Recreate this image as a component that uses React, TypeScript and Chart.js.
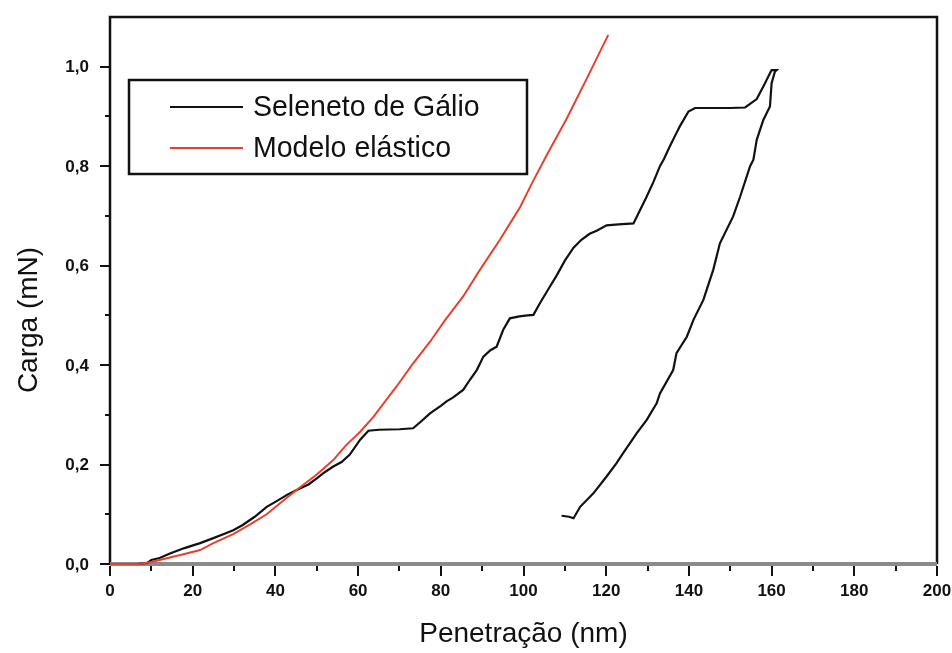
import { useEffect, useRef } from "react";
import { Chart, registerables } from "chart.js";

Chart.register(...registerables);

// Axis ticks
const xTicks = [0, 20, 40, 60, 80, 100, 120, 140, 160, 180, 200];
const yTicks = [0, 0.2, 0.4, 0.6, 0.8, 1.0];
const xMinorTicks = [10, 30, 50, 70, 90, 110, 130, 150, 170, 190];
const yMinorTicks = [0.1, 0.3, 0.5, 0.7, 0.9];

const xTitle = "Penetração (nm)";
const yTitle = "Carga (mN)";
const seriesNames = ["Seleneto de Gálio", "Modelo elástico"];

// Measured indentation curve (loading then unloading), penetration in nm
const galioNm = [
  6.5, 9, 10, 12, 14.5, 18, 21.8, 25, 28, 29.8, 32, 35, 37.9, 40, 43, 45.9, 48, 50, 52, 54, 56, 58,
  60.5, 62.5, 65, 70, 73.3, 75, 77.4, 80, 81.4, 83, 85.4, 87, 88.7, 90.3, 92, 93.5, 95.1, 96.7, 99,
  101, 102.4, 104, 106.4, 108, 110, 112.1, 114, 116, 117.7, 120.1, 123, 126.6, 128.2, 129.8, 131.4,
  133, 134, 135.4, 137, 137.8, 139.9, 141.5, 145, 150, 153.6, 156.4, 158, 159.6, 160, 161.2,
  160.8, 160, 159.6, 158, 156.4, 155.6, 154.8, 152.4, 150.7, 147.5, 145.9, 143.5, 141.1, 139.5,
  137, 136.2, 133, 132.2, 129.8, 127.4, 124.1, 122.5, 120, 116.9, 113.7, 112.1, 111, 109.2,
];
// Load in mN for each point above
const galioMn = [
  0, 0.002, 0.008, 0.012, 0.021, 0.032, 0.042, 0.052, 0.062, 0.068, 0.078, 0.095, 0.115, 0.125, 0.14,
  0.152, 0.16, 0.172, 0.185, 0.196, 0.205, 0.22, 0.25, 0.268, 0.27, 0.271, 0.273, 0.285, 0.303, 0.318,
  0.327, 0.335, 0.35, 0.37, 0.39, 0.417, 0.43, 0.437, 0.471, 0.494, 0.498, 0.5, 0.501, 0.525, 0.558,
  0.58, 0.61, 0.636, 0.652, 0.664, 0.67, 0.681, 0.683, 0.685, 0.712, 0.739, 0.768, 0.8, 0.815, 0.84,
  0.867, 0.88, 0.91, 0.917, 0.917, 0.917, 0.918, 0.935, 0.96, 0.987, 0.993, 0.993,
  0.99, 0.967, 0.92, 0.893, 0.853, 0.813, 0.8, 0.739, 0.699, 0.645, 0.592, 0.531, 0.491, 0.457,
  0.424, 0.39, 0.343, 0.323, 0.29, 0.263, 0.223, 0.203, 0.175, 0.142, 0.115, 0.092, 0.095, 0.097,
];

// Elastic model curve
const modelNm = [
  0, 7, 10, 14.5, 18, 21.8, 25, 29.8, 34, 37.9, 42, 45.9, 50, 54, 57, 60.5, 63.7, 69.3, 73, 77.4, 81,
  85.4, 89.5, 94.3, 97.5, 99.2, 102, 105.6, 110.4, 115.3, 120.5,
];
const modelMn = [
  0, 0, 0.004, 0.013, 0.02, 0.028, 0.042, 0.06, 0.08, 0.1, 0.128, 0.154, 0.18, 0.209, 0.238, 0.266,
  0.296, 0.357, 0.4, 0.447, 0.49, 0.538, 0.592, 0.652, 0.695, 0.718, 0.765, 0.822, 0.895, 0.976, 1.064,
];

const BLACK = "#111111";
const RED = "#e8402e";
const FONT = "'Liberation Sans', Arial, sans-serif";

const formatLoad = (v: number) => v.toFixed(1).replace(".", ",");

const decorations = {
  id: "decorations",
  beforeDatasetsDraw(chart: any) {
    const { ctx, chartArea: a, scales } = chart;
    const xs = scales.x;
    const ys = scales.y;
    ctx.save();
    // frame
    ctx.strokeStyle = BLACK;
    ctx.lineWidth = 2.5;
    ctx.beginPath();
    ctx.moveTo(a.left, a.bottom);
    ctx.lineTo(a.left, a.top);
    ctx.lineTo(a.right, a.top);
    ctx.lineTo(a.right, a.bottom);
    ctx.stroke();
    // x axis baseline
    ctx.strokeStyle = "#8a8a8a";
    ctx.lineWidth = 4;
    ctx.beginPath();
    ctx.moveTo(a.left, a.bottom);
    ctx.lineTo(a.right, a.bottom);
    ctx.stroke();
    // tick marks
    ctx.strokeStyle = BLACK;
    ctx.lineWidth = 2;
    ctx.beginPath();
    for (const v of xTicks) {
      const px = Math.round(xs.getPixelForValue(v));
      ctx.moveTo(px, a.bottom + 2);
      ctx.lineTo(px, a.bottom + 12);
    }
    for (const v of xMinorTicks) {
      const px = Math.round(xs.getPixelForValue(v));
      ctx.moveTo(px, a.bottom + 2);
      ctx.lineTo(px, a.bottom + 7);
    }
    for (const v of yTicks) {
      const py = Math.round(ys.getPixelForValue(v));
      ctx.moveTo(a.left - 10, py);
      ctx.lineTo(a.left, py);
    }
    for (const v of yMinorTicks) {
      const py = Math.round(ys.getPixelForValue(v));
      ctx.moveTo(a.left - 5, py);
      ctx.lineTo(a.left, py);
    }
    ctx.stroke();

    // tick labels
    ctx.fillStyle = BLACK;
    ctx.font = `bold 17px ${FONT}`;
    ctx.textBaseline = "middle";
    ctx.textAlign = "center";
    for (const v of xTicks) {
      ctx.fillText(String(v), xs.getPixelForValue(v), a.bottom + 27);
    }
    ctx.textAlign = "right";
    for (const v of yTicks) {
      ctx.fillText(formatLoad(v), a.left - 21, ys.getPixelForValue(v) + 1);
    }
    ctx.restore();
  },
  afterDraw(chart: any) {
    const { ctx, chartArea: a } = chart;
    ctx.save();
    ctx.fillStyle = BLACK;
    ctx.textBaseline = "middle";
    // axis titles
    ctx.font = `28px ${FONT}`;
    ctx.textAlign = "center";
    ctx.fillText(xTitle, (a.left + a.right) / 2, 634);
    ctx.save();
    ctx.translate(29, 320);
    ctx.rotate(-Math.PI / 2);
    ctx.fillText(yTitle, 0, 0);
    ctx.restore();

    // legend box
    const bx = 129, by = 80, bw = 398, bh = 94;
    ctx.strokeStyle = BLACK;
    ctx.lineWidth = 2.5;
    ctx.strokeRect(bx, by, bw, bh);
    const rows = [
      { label: seriesNames[0], color: BLACK, y: 107 },
      { label: seriesNames[1], color: RED, y: 148 },
    ];
    ctx.textAlign = "left";
    ctx.font = `30px ${FONT}`;
    for (const r of rows) {
      ctx.strokeStyle = r.color;
      ctx.lineWidth = 2;
      ctx.beginPath();
      ctx.moveTo(170, r.y);
      ctx.lineTo(243, r.y);
      ctx.stroke();
      ctx.save();
      ctx.translate(253, r.y + 1);
      ctx.scale(0.95, 1);
      ctx.fillStyle = BLACK;
      ctx.fillText(r.label, 0, 0);
      ctx.restore();
    }
    ctx.restore();
  },
};

export default function App() {
  const canvasRef = useRef<HTMLCanvasElement | null>(null);

  useEffect(() => {
    const canvas = canvasRef.current;
    if (!canvas) return;
    const chart = new Chart(canvas, {
      type: "scatter",
      data: {
        datasets: [
          {
            label: seriesNames[1],
            data: modelNm.map((x, i) => ({ x, y: modelMn[i] })),
            showLine: true,
            borderColor: RED,
            borderWidth: 2,
            pointRadius: 0,
            tension: 0,
            clip: false as any,
          },
          {
            label: seriesNames[0],
            data: galioNm.map((x, i) => ({ x, y: galioMn[i] })),
            showLine: true,
            borderColor: BLACK,
            borderWidth: 2.2,
            pointRadius: 0,
            tension: 0,
            clip: false as any,
          },
        ],
      },
      options: {
        animation: false,
        responsive: true,
        maintainAspectRatio: false,
        devicePixelRatio: 1,
        layout: { padding: { top: 17, right: 15, left: 0, bottom: 0 } },
        plugins: { legend: { display: false }, tooltip: { enabled: false } },
        scales: {
          x: {
            type: "linear",
            min: 0,
            max: 200,
            grid: { display: false, drawTicks: false },
            border: { display: false },
            ticks: { display: false },
            afterFit: (s: any) => {
              s.height = 89;
            },
          },
          y: {
            type: "linear",
            min: 0,
            max: 1.1,
            grid: { display: false, drawTicks: false },
            border: { display: false },
            ticks: { display: false },
            afterFit: (s: any) => {
              s.width = 110;
            },
          },
        },
      },
      plugins: [decorations],
    });
    return () => chart.destroy();
  }, []);

  return (
    <div style={{ position: "fixed", left: 0, top: 0, width: 952, height: 653, background: "#fff" }}>
      <canvas ref={canvasRef} />
    </div>
  );
}
